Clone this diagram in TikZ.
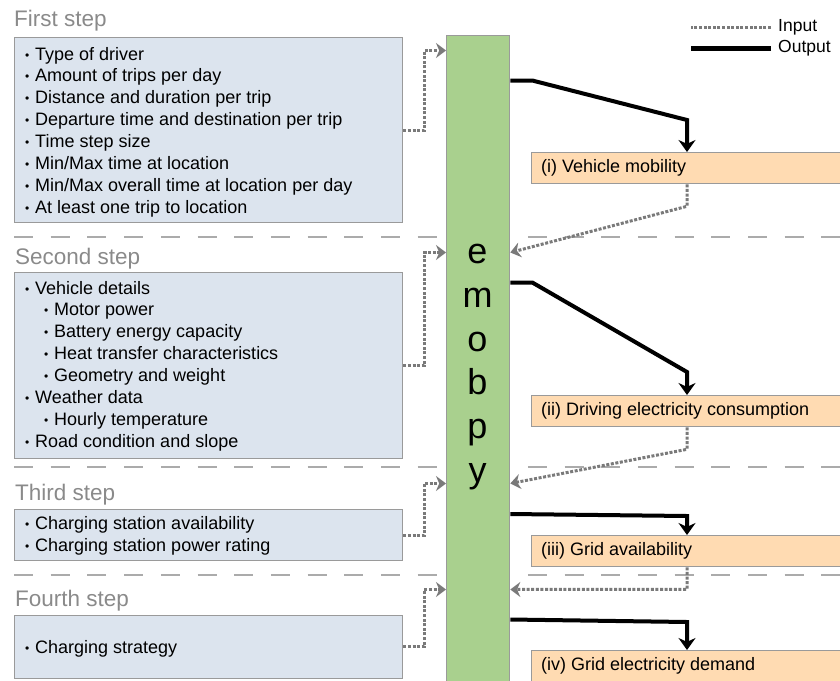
\documentclass[tikz,border=0pt]{standalone}
\usepackage{fontspec}
\setmainfont{Liberation Sans}
\usetikzlibrary{arrows.meta, positioning, calc}
\definecolor{stepblue}{HTML}{DCE4EE}
\definecolor{embgreen}{HTML}{A9D08E}
\definecolor{outorange}{HTML}{FFDBB2}
\definecolor{boxgray}{HTML}{9A9A9A}
\definecolor{sepgray}{HTML}{ABABAB}
\definecolor{titlegray}{HTML}{8A8A8A}
\definecolor{dotgray}{HTML}{7A7A7A}
\newcommand{\bul}{\makebox[10pt][l]{\raisebox{1pt}{\fontsize{12}{12}\selectfont\textbullet}}}
\newcommand{\subbul}{\hspace*{19pt}\bul}

\begin{document}
\begin{tikzpicture}[
    x=1pt, y=-1pt,
    >=Stealth,
    stepbox/.style={draw=boxgray, fill=stepblue, line width=1.3pt, inner sep=0pt, anchor=north west},
    steptitle/.style={anchor=base west, inner sep=0pt, text=titlegray, font=\fontsize{22.5}{26}\selectfont},
    itemlist/.style={anchor=north west, align=left, inner sep=0pt, font=\fontsize{18}{21.9}\selectfont},
    result/.style={draw=boxgray, fill=outorange, line width=1.3pt, anchor=north west, minimum width=330pt, minimum height=31pt, inner sep=0pt},
    resultlabel/.style={anchor=west, inner sep=0pt, font=\fontsize{18}{22}\selectfont},
    separator/.style={draw=sepgray, line width=2pt, dash pattern=on 19pt off 17.7pt},
    outflow/.style={-{Stealth[length=12pt, width=17pt]}, line width=4pt},
    inflow/.style={-{Stealth[length=10pt, width=15pt]}, dotgray, line width=3pt, dash pattern=on 3pt off 1.6pt},
  ]
    \clip (0,0) rectangle (840,680);

    % Separators between the steps
    \draw[separator] (14,237) -- (840,237);
    \draw[separator] (14,467) -- (840,467);
    \draw[separator] (14,575) -- (840,575);

    % Steps
    \node[steptitle] (titleone) at (14,27) {First step};
    \node[stepbox, minimum width=388pt, minimum height=185pt] (stepone) at (14,37) {};
    \node[itemlist] (listone) at (25,46.8) {\bul Type of driver\\
      \bul Amount of trips per day\\
      \bul Distance and duration per trip\\
      \bul Departure time and destination per trip\\
      \bul Time step size\\
      \bul Min/Max time at location\\
      \bul Min/Max overall time at location per day\\
      \bul At least one trip to location};

    \node[steptitle] (titletwo) at (15,264) {Second step};
    \node[stepbox, minimum width=388pt, minimum height=186pt] (steptwo) at (14,272) {};
    \node[itemlist] (listtwo) at (25,280.8) {\bul Vehicle details\\
      \subbul Motor power\\
      \subbul Battery energy capacity\\
      \subbul Heat transfer characteristics\\
      \subbul Geometry and weight\\
      \bul Weather data\\
      \subbul Hourly temperature\\
      \bul Road condition and slope};

    \node[steptitle] (titlethree) at (15,500) {Third step};
    \node[stepbox, minimum width=388pt, minimum height=51pt] (stepthree) at (14,509) {};
    \node[itemlist] (listthree) at (25,516.3) {\bul Charging station availability\\
      \bul Charging station power rating};

    \node[steptitle] (titlefour) at (15,606) {Fourth step};
    \node[stepbox, minimum width=388pt, minimum height=63pt] (stepfour) at (14,614.5) {};
    \node[itemlist] (listfour) at (25,639.8) {\bul Charging strategy};

    % emobpy bar
    \node[draw=boxgray, fill=embgreen, line width=1.3pt, anchor=north west, minimum width=63pt, minimum height=660pt, inner sep=0pt] (bar) at (446,34.5) {};
    \node[inner sep=0pt, align=center, font=\fontsize{36}{43.8}\selectfont] (emobpy) at (477.5,367) {e\\m\\o\\b\\p\\y};

    % Results
    \node[result] (mobility) at (531,152) {};
    \node[resultlabel] (mobilitytext) at ([xshift=10pt]mobility.west) {(i) Vehicle mobility};
    \node[result] (consumption) at (531,395) {};
    \node[resultlabel] (consumptiontext) at ([xshift=10pt]consumption.west) {(ii) Driving electricity consumption};
    \node[result] (availability) at (531,535) {};
    \node[resultlabel] (availabilitytext) at ([xshift=10pt]availability.west) {(iii) Grid availability};
    \node[result] (demand) at (531,650) {};
    \node[resultlabel] (demandtext) at ([xshift=10pt]demand.west) {(iv) Grid electricity demand};

    % Inputs from the steps
    \draw[inflow] (stepone.east) -- ++(21,0) |- ($(bar.north west)+(0,16)$);
    \draw[inflow] (steptwo.east) -- ++(21,0) |- ($(bar.north west)+(0,218)$);
    \draw[inflow] (stepthree.east) -- ++(21,0) |- ($(bar.north west)+(0,449)$);
    \draw[inflow] (stepfour.east) -- ++(21,0) |- ($(bar.north west)+(0,555)$);

    % Outputs of emobpy
    \draw[outflow] ($(bar.north east)+(0,46)$) -- ++(22,0) -- ($(mobility.north west)+(156,-32)$) -- ($(mobility.north west)+(156,0)$);
    \draw[outflow] ($(bar.north east)+(0,248)$) -- ++(22,0) -- ($(consumption.north west)+(156,-23)$) -- ($(consumption.north west)+(156,0)$);
    \draw[outflow] ($(bar.north east)+(0,479.5)$) -- ($(availability.north west)+(156,-19)$) -- ($(availability.north west)+(156,0)$);
    \draw[outflow] ($(bar.north east)+(0,585)$) -- ($(demand.north west)+(156,-28)$) -- ($(demand.north west)+(156,0)$);

    % Results fed back into emobpy
    \draw[inflow] ($(mobility.south west)+(156,0)$) -- ++(0,22) -- ($(bar.north east)+(0,218)$);
    \draw[inflow] ($(consumption.south west)+(156,0)$) -- ++(0,22) -- ($(bar.north east)+(0,449)$);
    \draw[inflow] ($(availability.south west)+(156,0)$) -- ++(0,22) -- ($(bar.north east)+(0,555)$);

    % Legend
    \node[anchor=west, inner sep=0pt, font=\fontsize{17.5}{20}\selectfont] (inputkey) at (778,27) {Input};
    \node[anchor=west, inner sep=0pt, font=\fontsize{17.5}{20}\selectfont] (outputkey) at (778,48) {Output};
    \draw[dotgray, line width=3pt, dash pattern=on 3pt off 1.6pt] ($(inputkey.west)+(-7,0)$) -- ++(-80,0);
    \draw[line width=5pt] ($(outputkey.west)+(-7,0)$) -- ++(-80,0);
  \end{tikzpicture}
\end{document}
